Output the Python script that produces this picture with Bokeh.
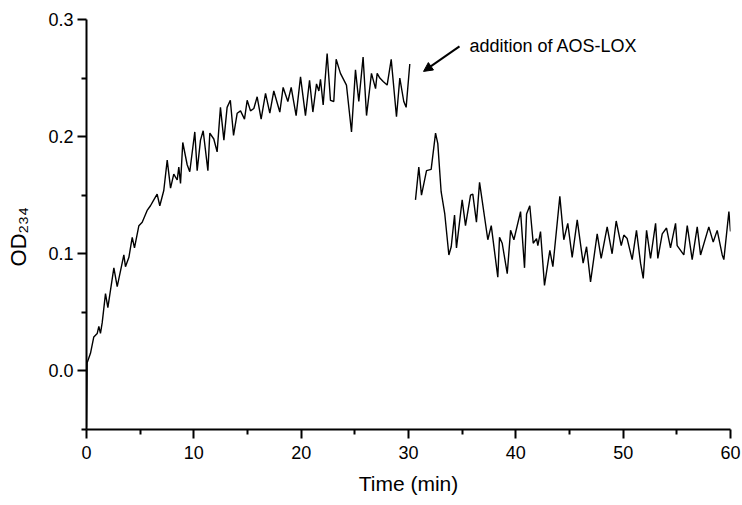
import math
from bokeh.plotting import figure
from bokeh.models import (Range1d, FixedTicker, Label, Arrow, NormalHead,
                          PrintfTickFormatter)
from bokeh.embed import file_html
from bokeh.resources import INLINE

# ---- data ----
time_before = [0.0, 0.06, 0.37, 0.68, 1.0, 1.15, 1.3, 1.46, 1.77, 1.99, 2.55, 2.86,
               3.32, 3.48, 3.63, 3.95, 4.26, 4.47, 4.88, 5.19, 5.65, 5.96, 6.27, 6.58,
               6.83, 7.2, 7.52, 7.83, 8.13, 8.45, 8.6, 8.76, 8.97, 9.38, 9.62, 10.09,
               10.31, 10.62, 10.87, 11.31, 11.49, 11.86, 12.17, 12.48, 12.8, 13.1, 13.4,
               13.7, 14.04, 14.35, 14.72, 14.97, 15.28, 15.59, 15.9, 16.27, 16.68, 17.08,
               17.45, 18.01, 18.32, 18.76, 19.07, 19.53, 19.94, 20.4, 20.78, 21.09, 21.43,
               21.65, 21.8, 22.05, 22.42, 22.73, 23.04, 23.26, 23.66, 24.22, 24.69, 25.06,
               25.37, 25.77, 26.09, 26.55, 26.93, 27.08, 27.33, 27.64, 28.01, 28.39, 28.88,
               29.19, 29.56, 29.78, 30.12]
od_before = [-0.048, 0.007, 0.015, 0.029, 0.032, 0.038, 0.032, 0.041, 0.066, 0.054, 0.088,
             0.072, 0.092, 0.099, 0.089, 0.097, 0.114, 0.105, 0.124, 0.127, 0.137, 0.141,
             0.146, 0.151, 0.141, 0.154, 0.180, 0.156, 0.168, 0.163, 0.174, 0.160, 0.195,
             0.176, 0.170, 0.204, 0.171, 0.197, 0.205, 0.171, 0.203, 0.198, 0.187, 0.225,
             0.197, 0.225, 0.231, 0.201, 0.220, 0.222, 0.215, 0.231, 0.222, 0.224, 0.234,
             0.215, 0.237, 0.220, 0.239, 0.221, 0.242, 0.230, 0.242, 0.218, 0.251, 0.218,
             0.248, 0.221, 0.245, 0.239, 0.249, 0.227, 0.271, 0.231, 0.230, 0.266, 0.254,
             0.244, 0.204, 0.257, 0.230, 0.268, 0.218, 0.254, 0.241, 0.254, 0.250, 0.247,
             0.244, 0.266, 0.217, 0.250, 0.230, 0.225, 0.262]

time_after = [30.65, 30.96, 31.21, 31.68, 32.11, 32.52, 32.73, 33.04, 33.38, 33.76, 33.98,
              34.29, 34.47, 35.0, 35.31, 35.78, 35.99, 36.33, 36.62, 37.39, 37.71, 38.32,
              38.48, 38.73, 39.2, 39.51, 39.82, 40.44, 40.81, 41.0, 41.3, 41.62, 41.93,
              42.05, 42.3, 42.67, 43.17, 43.45, 44.1, 44.47, 44.84, 45.25, 45.72, 46.27,
              46.59, 46.96, 47.58, 47.95, 48.51, 48.97, 49.35, 49.82, 50.06, 50.37, 50.84,
              51.24, 51.62, 51.87, 52.18, 52.55, 53.02, 53.23, 53.64, 54.04, 54.41, 54.88,
              55.03, 55.65, 55.97, 56.43, 56.9, 57.21, 57.98, 58.39, 58.76, 59.23, 59.38,
              59.85, 60.0]
od_after = [0.146, 0.174, 0.150, 0.171, 0.172, 0.203, 0.194, 0.153, 0.134, 0.099, 0.106,
            0.133, 0.105, 0.146, 0.124, 0.150, 0.151, 0.127, 0.161, 0.112, 0.124, 0.080,
            0.114, 0.109, 0.083, 0.120, 0.112, 0.136, 0.088, 0.134, 0.141, 0.109, 0.113,
            0.107, 0.119, 0.073, 0.103, 0.089, 0.149, 0.112, 0.126, 0.097, 0.129, 0.092,
            0.106, 0.076, 0.117, 0.096, 0.123, 0.100, 0.128, 0.107, 0.116, 0.113, 0.095,
            0.120, 0.092, 0.079, 0.120, 0.096, 0.126, 0.096, 0.117, 0.122, 0.105, 0.126,
            0.107, 0.099, 0.124, 0.095, 0.123, 0.099, 0.123, 0.110, 0.120, 0.099, 0.095,
            0.136, 0.119]

x_major_ticks = [0, 10, 20, 30, 40, 50, 60]
x_minor_ticks = [5, 15, 25, 35, 45, 55]
y_major_ticks = [0.0, 0.1, 0.2, 0.3]
y_minor_ticks = [-0.05, 0.05, 0.15, 0.25]

annotation_text = "addition of AOS-LOX"
x_label = "Time (min)"
y_label = "OD\u2082\u2083\u2084\u00a0\u00a0\u00a0\u00a0"

FONT = "Liberation Sans"

p = figure(width=742, height=505, frame_width=644, frame_height=410,
           min_border_left=86, min_border_right=12, min_border_top=19,
           min_border_bottom=76,
           x_range=Range1d(0, 60), y_range=Range1d(-0.05, 0.3),
           output_backend="svg", toolbar_location=None)
p.outline_line_color = None
p.xgrid.visible = False
p.ygrid.visible = False
p.background_fill_color = "white"
p.border_fill_color = "white"

p.line(time_before, od_before, line_color="#000000", line_width=1.4)
p.line(time_after, od_after, line_color="#000000", line_width=1.4)

for ax in (p.xaxis[0], p.yaxis[0]):
    ax.axis_line_width = 2
    ax.axis_line_color = "#000000"
    ax.major_tick_line_width = 2
    ax.minor_tick_line_width = 2
    ax.major_tick_line_color = "#000000"
    ax.minor_tick_line_color = "#000000"
    ax.major_tick_in = 0
    ax.major_tick_out = 9
    ax.minor_tick_in = 0
    ax.minor_tick_out = 5
    ax.major_label_text_font = FONT
    ax.major_label_text_font_size = "18px"
    ax.major_label_text_color = "#000000"

p.xaxis[0].ticker = FixedTicker(ticks=x_major_ticks, minor_ticks=x_minor_ticks)
p.yaxis[0].ticker = FixedTicker(ticks=y_major_ticks, minor_ticks=y_minor_ticks)
p.yaxis[0].formatter = PrintfTickFormatter(format="%.1f")
p.xaxis[0].major_label_standoff = 7
p.yaxis[0].major_label_standoff = 4

p.xaxis[0].axis_label = x_label
p.xaxis[0].axis_label_text_font = FONT
p.xaxis[0].axis_label_text_font_size = "21px"
p.xaxis[0].axis_label_text_font_style = "normal"
p.xaxis[0].axis_label_text_color = "#000000"
p.xaxis[0].axis_label_standoff = 10

p.yaxis[0].axis_label = y_label
p.yaxis[0].axis_label_text_font = FONT
p.yaxis[0].axis_label_text_font_size = "22px"
p.yaxis[0].axis_label_text_font_style = "normal"
p.yaxis[0].axis_label_text_color = "#000000"
p.yaxis[0].axis_label_standoff = 14

# annotation arrow and text
p.add_layout(Arrow(end=NormalHead(size=9, fill_color="#000000", line_color="#000000"),
                   x_start=34.75, y_start=0.277, x_end=31.4, y_end=0.2557,
                   line_width=2, line_color="#000000"))
p.add_layout(Label(x=35.68, y=0.277, text=annotation_text, text_font=FONT,
                   text_font_size="18px", text_color="#000000",
                   text_align="left", text_baseline="middle"))

open("out.html", "w").write(file_html(p, INLINE))
